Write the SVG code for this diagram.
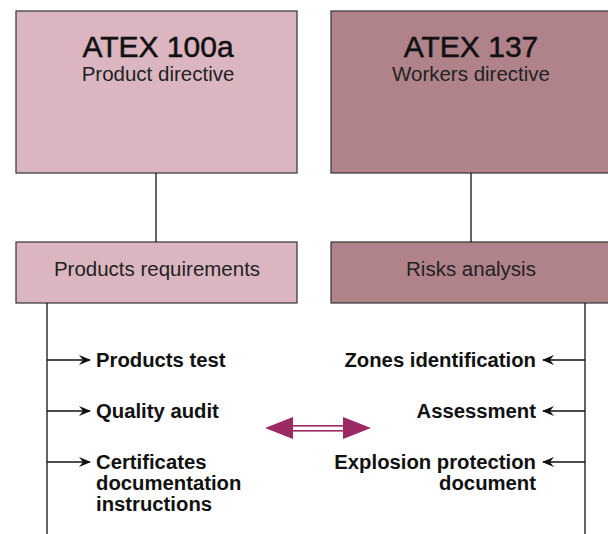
<svg xmlns="http://www.w3.org/2000/svg" width="608" height="534" viewBox="0 0 608 534">
<defs>
<style>
.box1{fill:#dbb6c1;stroke:#333;stroke-width:1.2}
.box2{fill:#b0828a;stroke:#333;stroke-width:1.2}
.ln{stroke:#111;stroke-width:1.3;fill:none}
.t{font-family:"Liberation Sans",Arial,Helvetica,sans-serif;fill:#111}
.h{font-size:30px;stroke:#111;stroke-width:0.5}
.s{font-size:20.5px;fill:#222}
.b{font-size:20.3px;font-weight:bold}
</style>
<marker id="ah" viewBox="0 0 12 10" refX="11" refY="5" markerWidth="12" markerHeight="10" markerUnits="userSpaceOnUse" orient="auto">
<path d="M0,0 L12,5 L0,10 L4,5 Z" fill="#111"/>
</marker>
</defs>
<g id="atex100a"><rect class="box1" x="16" y="11" width="281" height="162"/>
<text class="t h" x="158" y="57" text-anchor="middle">ATEX 100a</text>
<text class="t s" x="158" y="81" text-anchor="middle">Product directive</text></g>
<g id="atex137"><rect class="box2" x="331" y="11" width="290" height="162"/>
<text class="t h" x="471" y="57" text-anchor="middle">ATEX 137</text>
<text class="t s" x="471" y="81" text-anchor="middle">Workers directive</text></g>
<g id="products-req"><rect class="box1" x="16" y="242" width="281" height="61"/>
<text class="t s" x="157" y="276" text-anchor="middle">Products requirements</text></g>
<g id="risks"><rect class="box2" x="331" y="242" width="290" height="61"/>
<text class="t s" x="471" y="276" text-anchor="middle">Risks analysis</text></g>
<g id="products-test"><text class="t b" x="96" y="367">Products test</text></g>
<g id="quality-audit"><text class="t b" x="96" y="418">Quality audit</text></g>
<g id="certificates"><text class="t b" x="96" y="469">Certificates<tspan x="96" y="490">documentation</tspan><tspan x="96" y="511">instructions</tspan></text></g>
<g id="zones"><text class="t b" x="536" y="367" text-anchor="end">Zones identification</text></g>
<g id="assessment"><text class="t b" x="536" y="418" text-anchor="end">Assessment</text></g>
<g id="explosion"><text class="t b" x="536" y="469" text-anchor="end">Explosion protection<tspan x="536" y="490">document</tspan></text></g>
<g id="connectors">
<line class="ln" x1="156" y1="173" x2="156" y2="242"/>
<line class="ln" x1="471" y1="173" x2="471" y2="242"/>
<line class="ln" x1="47" y1="303" x2="47" y2="534"/>
<line class="ln" x1="585" y1="303" x2="585" y2="534"/>
<line class="ln" x1="47" y1="360" x2="90" y2="360" marker-end="url(#ah)"/>
<line class="ln" x1="47" y1="411" x2="90" y2="411" marker-end="url(#ah)"/>
<line class="ln" x1="47" y1="462" x2="90" y2="462" marker-end="url(#ah)"/>
<line class="ln" x1="585" y1="360" x2="543" y2="360" marker-end="url(#ah)"/>
<line class="ln" x1="585" y1="411" x2="543" y2="411" marker-end="url(#ah)"/>
<line class="ln" x1="585" y1="462" x2="543" y2="462" marker-end="url(#ah)"/>
<g id="double-arrow" fill="#9b2a62" stroke="none">
<path d="M265,428 L293,417 L293,439 Z"/>
<path d="M371,428 L343,417 L343,439 Z"/>
<rect x="292" y="425" width="52" height="1.6"/>
<rect x="292" y="430" width="52" height="1.6"/>
</g>
</g>
</svg>
